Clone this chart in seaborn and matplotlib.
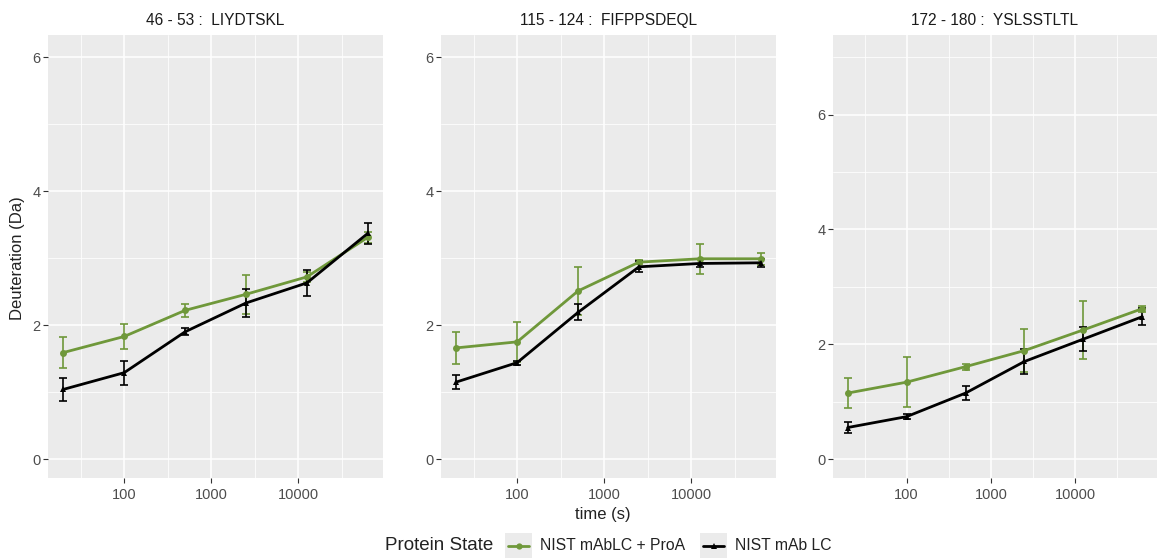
import numpy as np
import pandas as pd
import matplotlib
matplotlib.use("Agg")
import matplotlib.pyplot as plt
from matplotlib.lines import Line2D
from matplotlib.patches import Rectangle
import seaborn as sns

# Exposure times (s)
times = [20, 100, 500, 2500, 12500, 62500]

peptides = ["46 - 53 :  LIYDTSKL", "115 - 124 :  FIFPPSDEQL", "172 - 180 :  YSLSSTLTL"]
states = ["NIST mAbLC + ProA", "NIST mAb LC"]

# Deuterium uptake (Da) and standard deviation per peptide, per state
p1_proa = [1.59, 1.83, 2.22, 2.46, 2.72, 3.31]
p1_proa_sd = [0.23, 0.18, 0.10, 0.29, 0.07, 0.08]
p1_lc = [1.04, 1.29, 1.90, 2.33, 2.63, 3.37]
p1_lc_sd = [0.17, 0.18, 0.05, 0.21, 0.19, 0.16]

p2_proa = [1.66, 1.75, 2.51, 2.94, 2.99, 2.99]
p2_proa_sd = [0.24, 0.30, 0.36, 0.03, 0.22, 0.09]
p2_lc = [1.15, 1.44, 2.19, 2.87, 2.92, 2.93]
p2_lc_sd = [0.10, 0.03, 0.12, 0.08, 0.06, 0.06]

p3_proa = [1.15, 1.34, 1.61, 1.89, 2.25, 2.62]
p3_proa_sd = [0.26, 0.44, 0.05, 0.38, 0.50, 0.05]
p3_lc = [0.55, 0.74, 1.15, 1.70, 2.09, 2.48]
p3_lc_sd = [0.09, 0.05, 0.12, 0.21, 0.21, 0.15]

uptake = [(p1_proa, p1_proa_sd, p1_lc, p1_lc_sd),
          (p2_proa, p2_proa_sd, p2_lc, p2_lc_sd),
          (p3_proa, p3_proa_sd, p3_lc, p3_lc_sd)]

# Theoretical maximum uptake sets the y range of each panel
max_uptake = [6, 6, 7]

rows = []
for pep, (a, asd, b, bsd) in zip(peptides, uptake):
    for t, v, s in zip(times, a, asd):
        rows.append((pep, states[0], t, v, s))
    for t, v, s in zip(times, b, bsd):
        rows.append((pep, states[1], t, v, s))
df = pd.DataFrame(rows, columns=["peptide", "state", "time", "uptake", "sd"])

colors = {states[0]: "#6F983A", states[1]: "#000000"}
markers = {states[0]: "o", states[1]: "^"}

sns.set_theme(style="darkgrid", rc={
    "axes.facecolor": "#EBEBEB",
    "grid.color": "white",
    "figure.facecolor": "white",
})
plt.rcParams["font.family"] = ["Liberation Sans", "DejaVu Sans"]

fig = plt.figure(figsize=(11.59, 5.58), dpi=100)
W, H = 1159, 558
panels_px = [(48, 383), (441, 776), (833, 1157)]
top_px, bot_px = 35, 478

for i, (pep, (x0, x1)) in enumerate(zip(peptides, panels_px)):
    ax = fig.add_axes([x0 / W, 1 - bot_px / H, (x1 - x0) / W, (bot_px - top_px) / H])
    sub = df[df["peptide"] == pep]
    sns.lineplot(data=sub, x="time", y="uptake", hue="state", style="state",
                 palette=colors, markers=markers, dashes=False, linewidth=2,
                 markersize=5, markeredgewidth=0, legend=False, ax=ax, zorder=3)
    for st in states:
        s = sub[sub["state"] == st]
        ax.errorbar(s["time"], s["uptake"], yerr=s["sd"], fmt="none",
                    ecolor=colors[st], elinewidth=1.2, capsize=2.8,
                    capthick=1.2, zorder=2)
    ax.set_xscale("log")
    ax.set_xlim(10 ** 1.126, 10 ** 4.97)
    ymax = max_uptake[i]
    ax.set_ylim(-0.047 * ymax, ymax * 1.055)
    ax.set_xticks([100, 1000, 10000])
    ax.set_xticklabels(["100", "1000", "10000"])
    ax.set_xticks([10 ** 1.5, 10 ** 2.5, 10 ** 3.5, 10 ** 4.5], minor=True)
    ax.set_yticks([0, 2, 4, 6])
    ax.set_yticks([1, 3, 5, 7][: 3 if ymax == 6 else 4], minor=True)
    ax.grid(which="major", color="white", linewidth=1.1)
    ax.grid(which="minor", color="white", linewidth=0.55)
    ax.tick_params(which="major", length=3.5, width=0.8, color="#333333",
                   labelsize=10.5, labelcolor="#4D4D4D", pad=3.5, left=True, bottom=True)
    ax.tick_params(axis="y", which="major", pad=2)
    ax.tick_params(which="minor", length=0)
    for sp in ax.spines.values():
        sp.set_visible(False)
    ax.set_xlabel("")
    ax.set_ylabel("")
    ax.set_title(pep, fontsize=11.2, color="#1A1A1A", pad=7)

fig.text(18 / W, 1 - 258 / H, "Deuteration (Da)", rotation=90, ha="center",
         va="center", fontsize=12, color="#222222")
fig.text(603 / W, 1 - 515 / H, "time (s)", ha="center", va="center",
         fontsize=12, color="#222222")

# Legend along the bottom: title, then one gray key box per state
leg_y = 546
fig.text(385 / W, 1 - leg_y / H, "Protein State", ha="left", va="center",
         fontsize=13.5, color="#222222")
key_left = [505, 700]
for st, kx in zip(states, key_left):
    fig.patches.append(Rectangle((kx / W, 1 - (leg_y + 13) / H), 27 / W, 26 / H,
                                 transform=fig.transFigure, facecolor="#EBEBEB",
                                 edgecolor="none", zorder=1))
    fig.lines.append(Line2D([(kx + 3) / W, (kx + 24) / W], [1 - leg_y / H] * 2,
                            transform=fig.transFigure, color=colors[st],
                            linewidth=2, zorder=2))
    fig.lines.append(Line2D([(kx + 13.5) / W], [1 - leg_y / H],
                            transform=fig.transFigure, color=colors[st],
                            marker=markers[st], markersize=4.5,
                            markeredgewidth=0, linestyle="none", zorder=3))
    fig.text((kx + 35) / W, 1 - leg_y / H, st, ha="left", va="center",
             fontsize=11.3, color="#222222")

fig.savefig("out.png", dpi=100)
